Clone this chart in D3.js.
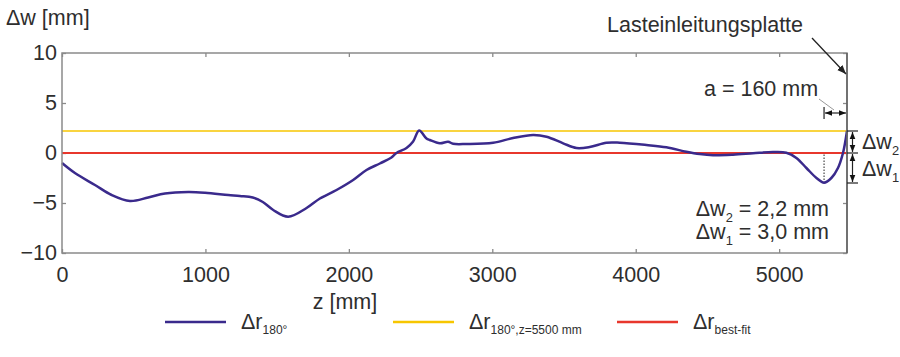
<!DOCTYPE html>
<html><head><meta charset="utf-8">
<script src="https://cdnjs.cloudflare.com/ajax/libs/d3/7.8.5/d3.min.js"></script>
<style>
body{margin:0;background:#fff;}
svg{display:block;font-family:"Liberation Sans",Arial,Helvetica,sans-serif;}
</style></head><body>
<svg id="c" width="900" height="357"></svg>
<script>
// ---- data ----
const zVals = [0, 90, 230, 346, 474, 601, 718, 880, 997, 1159, 1240, 1330, 1400, 1473, 1577, 1705, 1798, 1914, 2030, 2123, 2216, 2297, 2332, 2402, 2448, 2490, 2541, 2564, 2634, 2692, 2727, 2820, 3006, 3145, 3285, 3378, 3494, 3587, 3679, 3796, 3889, 4075, 4214, 4353, 4446, 4539, 4678, 4818, 4957, 5050, 5120, 5190, 5260, 5313, 5364, 5410, 5445, 5473];
const wVals = [-1.0, -2.0, -3.2, -4.2, -4.8, -4.45, -4.05, -3.9, -3.97, -4.2, -4.3, -4.45, -4.9, -5.7, -6.37, -5.5, -4.55, -3.7, -2.7, -1.7, -1.05, -0.45, 0, 0.5, 1.15, 2.25, 1.45, 1.3, 0.97, 1.12, 0.92, 0.9, 1.02, 1.5, 1.8, 1.63, 0.97, 0.5, 0.6, 1.03, 1.03, 0.8, 0.57, 0.13, -0.1, -0.22, -0.17, -0.03, 0.1, 0.03, -0.5, -1.5, -2.5, -2.97, -2.5, -1.5, 0, 2.2];
const refLevel = 2.2;     // Δr180°,z=5500 mm
const bestFit = 0;        // Δr best-fit
const xTicks = [0, 1000, 2000, 3000, 4000, 5000];
const yTicks = [-10, -5, 0, 5, 10];
const zMax = 5473;
const dw1 = 3.0, dw2 = 2.2, aLen = 160, zMin = 5313;
const legendItems = [
  {sub: "180°", color: "#3a2a8c"},
  {sub: "180°,z=5500 mm", color: "#f7c600"},
  {sub: "best-fit", color: "#e8372c"}
];

// ---- layout ----
const svg = d3.select("#c");
const L = 62, R = 847, T = 53, B = 253;
const x = d3.scaleLinear().domain([0, zMax]).range([L, R]);
const y = d3.scaleLinear().domain([-10, 10]).range([B, T]);
const txt = "#2e2e2e", frame = "#8a8a8a";
const FS = 21.5;

const defs = svg.append("defs");
defs.append("marker").attr("id","ah").attr("viewBox","0 0 10 10").attr("refX",10).attr("refY",5)
  .attr("markerWidth",7).attr("markerHeight",7).attr("orient","auto-start-reverse").attr("markerUnits","userSpaceOnUse")
  .append("path").attr("d","M0,1 L10,5 L0,9 Z").attr("fill","#111");
defs.append("marker").attr("id","ah2").attr("viewBox","0 0 10 10").attr("refX",10).attr("refY",5)
  .attr("markerWidth",9).attr("markerHeight",9).attr("orient","auto").attr("markerUnits","userSpaceOnUse")
  .append("path").attr("d","M0,1 L10,5 L0,9 Z").attr("fill","#222");

// axes
function styleAx(g){ g.select(".domain").remove(); g.selectAll("line").attr("stroke",frame).attr("stroke-width",1.3);
  g.selectAll("text").attr("fill",txt).style("font-size",FS+"px").style("font-family","'Liberation Sans',Arial,sans-serif"); }
svg.append("g").attr("transform",`translate(0,${B})`)
  .call(d3.axisBottom(x).tickValues(xTicks).tickSize(-4).tickPadding(14).tickFormat(d3.format("d"))).call(styleAx);
svg.append("g").attr("transform",`translate(0,${T})`)
  .call(d3.axisTop(x).tickValues(xTicks).tickSize(-4).tickFormat("")).call(styleAx);
svg.append("g").attr("transform",`translate(${L},0)`)
  .call(d3.axisLeft(y).tickValues(yTicks).tickSize(-4).tickPadding(5).tickFormat(d => d < 0 ? "\u2212" + Math.abs(d) : d)).call(styleAx);
svg.append("g").attr("transform",`translate(${R},0)`)
  .call(d3.axisRight(y).tickValues(yTicks).tickSize(-4).tickFormat("")).call(styleAx);

// reference lines
svg.append("line").attr("x1",x(0)).attr("x2",x(zMax)).attr("y1",y(refLevel)).attr("y2",y(refLevel))
  .attr("stroke",legendItems[1].color).attr("stroke-width",1.6);
svg.append("line").attr("x1",x(0)).attr("x2",x(zMax)).attr("y1",y(bestFit)).attr("y2",y(bestFit))
  .attr("stroke",legendItems[2].color).attr("stroke-width",2);

// dotted min line
svg.append("line").attr("x1",x(zMin)).attr("x2",x(zMin)).attr("y1",y(-dw1)).attr("y2",y(0))
  .attr("stroke","#222").attr("stroke-width",1).attr("stroke-dasharray","1.5,1.5");

// curve
const pts = zVals.map((z,i)=>[z,wVals[i]]);
svg.append("path").datum(pts)
  .attr("d", d3.line().x(d=>x(d[0])).y(d=>y(d[1])).curve(d3.curveCatmullRom.alpha(0.5)))
  .attr("fill","none").attr("stroke",legendItems[0].color).attr("stroke-width",2.5);

// frame
svg.append("rect").attr("x",L).attr("y",T).attr("width",R-L).attr("height",B-T)
  .attr("fill","none").attr("stroke",frame).attr("stroke-width",1.5);
svg.append("line").attr("x1",R).attr("x2",R).attr("y1",T).attr("y2",B).attr("stroke","#555").attr("stroke-width",1.3);

// helper for Δw with subscript
function dwText(g, xx, yy, sub, rest, size, anchor){
  const t = g.append("text").attr("x",xx).attr("y",yy).attr("fill",txt).style("font-size",size+"px").attr("text-anchor",anchor||"start");
  t.append("tspan").text("\u0394w");
  t.append("tspan").attr("dy", size*0.28).style("font-size",(size*0.6)+"px").text(sub);
  if(rest) t.append("tspan").attr("dy", -size*0.28).text(rest);
  return t;
}
svg.append("text").attr("x",6).attr("y",25).attr("fill",txt).style("font-size",FS+"px").text("\u0394w [mm]");
svg.append("text").attr("x",345).attr("y",309).attr("text-anchor","middle").attr("fill",txt).style("font-size",FS+"px").text("z [mm]");

// Lasteinleitungsplatte
svg.append("text").attr("x",607).attr("y",32).attr("fill",txt).style("font-size",FS+"px").text("Lasteinleitungsplatte");
svg.append("line").attr("x1",812).attr("y1",38).attr("x2",x(zMax)-1).attr("y2",74)
  .attr("stroke","#222").attr("stroke-width",1.3).attr("marker-end","url(#ah2)");

// a = 160 mm
svg.append("text").attr("x",704).attr("y",96).attr("fill",txt).style("font-size",FS+"px").text("a = " + aLen + " mm");
svg.append("line").attr("x1",819).attr("y1",99).attr("x2",834).attr("y2",110).attr("stroke","#999").attr("stroke-width",1);
svg.append("line").attr("x1",x(zMax-aLen)).attr("x2",x(zMax-aLen)).attr("y1",107).attr("y2",119).attr("stroke","#222").attr("stroke-width",1.2);
svg.append("line").attr("x1",x(zMax-aLen)+1).attr("x2",x(zMax)-1).attr("y1",113).attr("y2",113)
  .attr("stroke","#222").attr("stroke-width",1.2).attr("marker-start","url(#ah)").attr("marker-end","url(#ah)");

// Δw arrows on right
const ax = R + 5.5;
[refLevel, 0, -dw1].forEach(v=>{
  svg.append("line").attr("x1",R).attr("x2",R+11).attr("y1",y(v)).attr("y2",y(v)).attr("stroke","#222").attr("stroke-width",1.2);
});
svg.append("line").attr("x1",ax).attr("x2",ax).attr("y1",y(refLevel)+1).attr("y2",y(0)-1)
  .attr("stroke","#222").attr("stroke-width",1.2).attr("marker-start","url(#ah)").attr("marker-end","url(#ah)");
svg.append("line").attr("x1",ax).attr("x2",ax).attr("y1",y(0)+1).attr("y2",y(-dw1)-1)
  .attr("stroke","#222").attr("stroke-width",1.2).attr("marker-start","url(#ah)").attr("marker-end","url(#ah)");
dwText(svg, 862, 149, "2", null, FS);
dwText(svg, 862, 176, "1", null, FS);

// values text
dwText(svg, 829, 216, "2", " = " + dw2.toFixed(1).replace(".", ",") + " mm", FS, "end");
dwText(svg, 829, 239, "1", " = " + dw1.toFixed(1).replace(".", ",") + " mm", FS, "end");

// legend
const legX = [165, 393, 617];
legendItems.forEach((it,i)=>{
  const g = svg.append("g");
  g.append("line").attr("x1",legX[i]).attr("x2",legX[i]+61).attr("y1",322).attr("y2",322).attr("stroke",it.color).attr("stroke-width",2.6);
  const t = g.append("text").attr("x",legX[i]+76).attr("y",329).attr("fill",txt).style("font-size",FS+"px");
  t.append("tspan").text("\u0394r");
  t.append("tspan").attr("dy",5).style("font-size","12px").text(it.sub);
});
</script>
</body></html>
